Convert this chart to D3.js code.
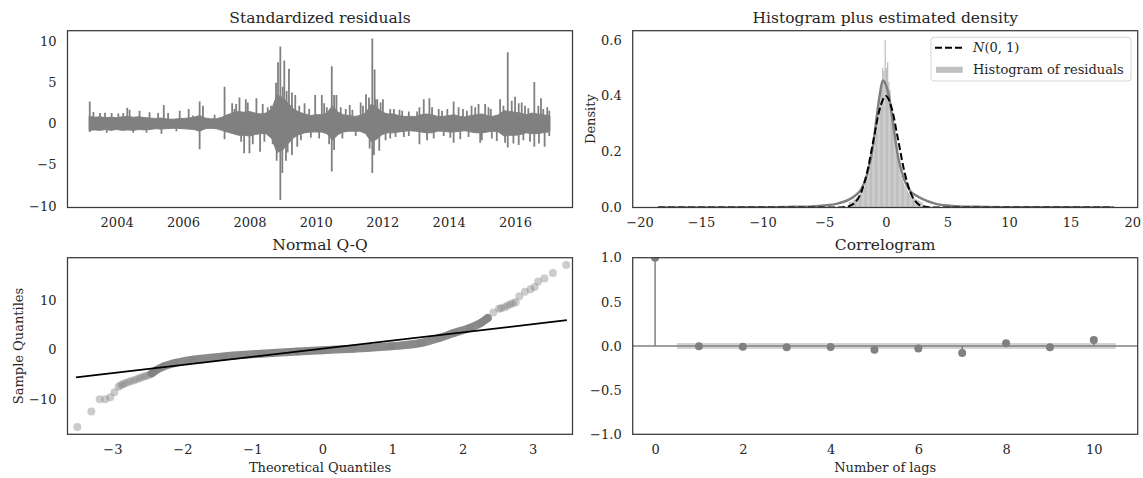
<!DOCTYPE html>
<html>
<head>
<meta charset="utf-8">
<script src="https://cdn.jsdelivr.net/npm/d3@7"></script>
<style>
    body { margin: 0; background: #fff; }
    svg text { font-family: "DejaVu Serif", serif; fill: #262626; }
</style>
</head>
<body>
<div id="main_area"></div>
<script>
// ---- standardized residuals: dense core band (every two months) and spikes ----
var bandYears = [2003.17, 2003.33, 2003.5, 2003.67, 2003.83, 2004.0, 2004.17, 2004.33, 2004.5, 2004.67, 2004.83,
    2005.0, 2005.17, 2005.33, 2005.5, 2005.67, 2005.83, 2006.0, 2006.17, 2006.33, 2006.5, 2006.67, 2006.83,
    2007.0, 2007.17, 2007.33, 2007.5, 2007.67, 2007.83, 2008.0, 2008.17, 2008.33, 2008.5, 2008.67, 2008.83,
    2009.0, 2009.17, 2009.33, 2009.5, 2009.67, 2009.83, 2010.0, 2010.17, 2010.33, 2010.5, 2010.67, 2010.83,
    2011.0, 2011.17, 2011.33, 2011.5, 2011.67, 2011.83, 2012.0, 2012.17, 2012.33, 2012.5, 2012.67, 2012.83,
    2013.0, 2013.17, 2013.33, 2013.5, 2013.67, 2013.83, 2014.0, 2014.17, 2014.33, 2014.5, 2014.67, 2014.83,
    2015.0, 2015.17, 2015.33, 2015.5, 2015.67, 2015.83, 2016.0, 2016.17, 2016.33, 2016.5, 2016.67, 2016.83,
    2017.0, 2017.05];
var bandHi = [0.9, 0.8, 0.85, 0.75, 0.8, 0.75, 0.85, 0.9, 0.8, 0.85, 0.75,
    0.7, 0.65, 0.7, 0.6, 0.55, 0.6, 0.65, 0.7, 0.8, 1.0, 0.7, 0.6,
    0.6, 0.8, 1.1, 1.3, 1.5, 1.4, 1.5, 1.3, 1.2, 1.3, 1.8, 3.5,
    3.2, 2.5, 1.8, 1.4, 1.2, 1.0, 1.1, 1.1, 1.3, 2.2, 1.4, 1.1,
    1.0, 0.9, 1.0, 1.3, 2.4, 2.0, 1.4, 1.2, 1.2, 1.0, 0.9, 0.9,
    0.9, 1.1, 1.2, 1.1, 0.9, 0.9, 1.0, 1.1, 0.9, 0.85, 1.0, 1.1,
    1.2, 1.0, 0.9, 1.1, 1.6, 1.5, 1.4, 1.3, 1.1, 1.3, 1.2, 1.1,
    1.0, 0.9];
var bandLo = [-0.8, -0.75, -0.8, -0.7, -0.8, -0.7, -0.8, -0.75, -0.8, -0.7, -0.75,
    -0.7, -0.6, -0.65, -0.6, -0.55, -0.55, -0.6, -0.65, -0.7, -0.9, -0.6, -0.55,
    -0.6, -0.8, -1.0, -1.2, -1.4, -1.4, -1.5, -1.3, -1.2, -1.2, -1.8, -3.5,
    -3.2, -2.4, -1.7, -1.3, -1.1, -1.0, -1.0, -1.0, -1.2, -2.0, -1.3, -1.0,
    -0.9, -0.9, -0.9, -1.2, -2.2, -1.9, -1.3, -1.1, -1.1, -1.0, -0.9, -0.85,
    -0.9, -1.0, -1.1, -1.1, -0.9, -0.9, -1.0, -1.0, -0.9, -0.85, -1.0, -1.1,
    -1.1, -1.0, -0.9, -1.0, -1.5, -1.4, -1.4, -1.3, -1.1, -1.2, -1.2, -1.1,
    -1.0, -0.9];
var spikeYears = [2003.19, 2003.19, 2003.3, 2003.5, 2003.65, 2003.7, 2003.85, 2004.05, 2004.2, 2004.32, 2004.39,
    2004.5, 2004.69, 2004.9, 2004.99, 2005.25, 2005.35, 2005.42, 2005.55, 2005.8, 2005.9, 2006.17, 2006.3,
    2006.5, 2006.5, 2006.6, 2006.95, 2007.25, 2007.25, 2007.48, 2007.55, 2007.6, 2007.7, 2007.75, 2007.84,
    2007.89, 2007.95, 2008.0, 2008.1, 2008.21, 2008.32, 2008.4, 2008.45, 2008.55, 2008.65, 2008.7, 2008.8,
    2008.82, 2008.86, 2008.93, 2008.93, 2008.99, 2009.0, 2009.05, 2009.1, 2009.12, 2009.15, 2009.19, 2009.28,
    2009.28, 2009.38, 2009.44, 2009.5, 2009.55, 2009.66, 2009.8, 2009.85, 2009.98, 2010.1, 2010.18, 2010.25,
    2010.33, 2010.4, 2010.48, 2010.48, 2010.55, 2010.55, 2010.62, 2010.75, 2010.8, 2010.9, 2011.02, 2011.1,
    2011.2, 2011.35, 2011.42, 2011.51, 2011.6, 2011.62, 2011.7, 2011.7, 2011.75, 2011.77, 2011.8, 2011.85,
    2011.91, 2011.95, 2012.02, 2012.1, 2012.24, 2012.24, 2012.35, 2012.4, 2012.52, 2012.6, 2012.65, 2012.8,
    2012.8, 2013.05, 2013.12, 2013.12, 2013.25, 2013.35, 2013.42, 2013.5, 2013.55, 2013.7, 2013.8, 2013.85,
    2013.96, 2014.05, 2014.15, 2014.15, 2014.3, 2014.35, 2014.43, 2014.55, 2014.6, 2014.69, 2014.8, 2014.9,
    2014.95, 2015.0, 2015.1, 2015.2, 2015.27, 2015.3, 2015.45, 2015.55, 2015.65, 2015.7, 2015.78, 2015.78,
    2015.9, 2015.95, 2016.0, 2016.11, 2016.11, 2016.2, 2016.25, 2016.3, 2016.4, 2016.45, 2016.58, 2016.58,
    2016.7, 2016.72, 2016.78, 2016.85, 2016.89, 2016.97, 2017.03, 2017.03];
var spikeVals = [2.7, -1.0, 1.45, 1.3, 1.35, -1.1, 1.3, 1.25, 1.3, 1.95, 1.7,
    -1.1, 1.6, -1.1, 1.4, 1.3, -1.2, 2.3, 1.3, -0.9, 1.6, 1.8, 1.0,
    2.7, -3.1, 2.2, 1.1, 4.5, -1.9, 2.5, 1.8, 2.4, 3.2, -2.2, -3.6,
    3.0, 2.6, -3.6, -2.5, 3.1, -3.4, 2.4, -2.2, 2.0, 2.2, -2.5, 5.0,
    -4.5, 7.5, 9.4, -9.3, -6.0, 4.5, 7.7, -4.5, 4.0, -3.5, 6.7, 3.8,
    -3.8, 3.5, -2.8, 2.2, -2.0, 2.5, 1.8, -1.7, 3.5, -1.8, 3.5, 2.5,
    2.0, -2.5, 7.0, -5.8, 3.5, -3.2, 3.5, 2.0, -1.8, 1.8, 2.3, 1.7,
    -1.5, 2.6, 2.2, 3.6, 3.2, -3.0, 10.4, -6.0, -3.8, 6.6, 3.0, 3.0,
    -3.3, 2.6, 3.0, -2.0, 1.8, -1.8, 1.8, -1.6, 1.7, 1.6, -1.6, 1.5,
    -1.5, 1.5, 2.0, -2.5, 3.0, -2.0, 3.1, 2.0, -1.8, 1.8, 1.6, -1.5,
    1.8, -1.7, 2.7, -2.3, 2.0, -1.9, 1.8, 1.6, -1.6, 2.2, 2.0, 2.4,
    -2.3, -2.0, 2.4, 2.0, 1.8, -1.8, -2.1, 3.0, 2.2, -2.3, 8.7, -2.9,
    2.8, -2.4, 3.3, 2.5, -2.6, 2.6, -2.0, 2.2, 1.9, -2.2, 5.1, -2.8,
    2.2, -2.4, 3.1, 1.8, -2.8, 2.0, -1.5, 1.6];
var tsYTicks = [-10, -5, 0, 5, 10];
var tsXTicks = [2004, 2006, 2008, 2010, 2012, 2014, 2016];

// ---- histogram + densities ----
var histEdges = [-3.0, -2.9, -2.8, -2.7, -2.6, -2.5, -2.4, -2.3, -2.2, -2.1, -2.0, -1.9, -1.8, -1.7, -1.6,
    -1.5, -1.4, -1.3, -1.2, -1.1, -1.0, -0.9, -0.8, -0.7, -0.6, -0.5, -0.4, -0.3, -0.2, -0.1,
    0.0, 0.1, 0.2, 0.3, 0.4, 0.5, 0.6, 0.7, 0.8, 0.9, 1.0, 1.1, 1.2, 1.3, 1.4,
    1.5, 1.6, 1.7, 1.8, 1.9, 2.0, 2.1, 2.2, 2.3, 2.4, 2.5, 2.6, 2.7, 2.8, 2.9, 3.0];
var histDensity = [0.02, 0.02, 0.022, 0.025, 0.028, 0.03, 0.035, 0.038, 0.045, 0.05,
    0.057, 0.065, 0.072, 0.085, 0.10, 0.11, 0.125, 0.145, 0.165, 0.19,
    0.21, 0.24, 0.27, 0.30, 0.34, 0.38, 0.42, 0.50, 0.49, 0.60,
    0.50, 0.52, 0.45, 0.42, 0.36, 0.32, 0.28, 0.25, 0.21, 0.18,
    0.155, 0.135, 0.115, 0.10, 0.088, 0.077, 0.068, 0.06, 0.052, 0.046,
    0.042, 0.038, 0.035, 0.032, 0.03, 0.027, 0.025, 0.022, 0.02, 0.018];
var kdeX = [-18.5, -10, -8, -6, -5, -4, -3, -2.5, -2, -1.5, -1, -0.75, -0.5, -0.25, 0, 0.25, 0.5, 0.75, 1, 1.5, 2, 2.5, 3, 4, 5, 6, 8, 10, 18.5];
var kdeY = [0, 0.001, 0.002, 0.004, 0.007, 0.013, 0.028, 0.042, 0.065, 0.12, 0.23, 0.32, 0.40, 0.455, 0.44, 0.40, 0.33, 0.25, 0.18, 0.10, 0.058, 0.042, 0.03, 0.014, 0.007, 0.004, 0.002, 0.001, 0];
var normX = [-18.5, -5, -4, -3.5, -3, -2.5, -2, -1.5, -1, -0.5, 0, 0.5, 1, 1.5, 2, 2.5, 3, 3.5, 4, 5, 18.5];
var normY = [0, 0, 0.0001, 0.0009, 0.0044, 0.0175, 0.054, 0.13, 0.242, 0.352, 0.399, 0.352, 0.242, 0.13, 0.054, 0.0175, 0.0044, 0.0009, 0.0001, 0, 0];
var histXTicks = [-20, -15, -10, -5, 0, 5, 10, 15, 20];
var histYTicks = [0.0, 0.2, 0.4, 0.6];

// ---- normal Q-Q ----
var qqTheo = [-3.50, -3.30, -3.18, -3.10, -3.03, -2.97, -2.91, -2.88, -2.85, -2.82, -2.78, -2.74, -2.70, -2.66,
    -2.62, -2.59, -2.55, -2.52, -2.48, -2.44, -2.41, -2.37, -2.27, -2.11, -1.84, -1.41, -0.88, -0.35, 0.0, 0.45,
    0.98, 1.40, 1.67, 1.88, 2.10, 2.26, 2.36, 2.44, 2.52, 2.55, 2.60, 2.64, 2.68, 2.72, 2.76, 2.81, 2.89, 2.97,
    3.03, 3.08, 3.17, 3.29, 3.48];
var qqSample = [-15.6, -12.5, -10.0, -10.0, -9.6, -8.6, -7.5, -7.2, -7.0, -6.8, -6.6, -6.4, -6.2, -6.0,
    -5.8, -5.6, -5.4, -5.3, -5.1, -4.8, -4.5, -4.1, -3.4, -2.7, -2.0, -1.35, -0.8, -0.35, -0.1, 0.2,
    0.7, 1.35, 2.4, 3.4, 4.4, 5.4, 6.4, 7.5, 8.3, 8.4, 8.6, 8.9, 9.2, 9.4, 9.6, 10.8, 11.7, 12.2,
    12.7, 13.8, 14.4, 15.5, 17.1];
var qqLineX = [-3.52, 3.49];
var qqLineY = [-5.6, 5.97];
var qqXTicks = [-3, -2, -1, 0, 1, 2, 3];
var qqYTicks = [-10, 0, 10];

// ---- correlogram ----
var acfLags = [0, 1, 2, 3, 4, 5, 6, 7, 8, 9, 10];
var acfVals = [1.0, -0.004, -0.008, -0.015, -0.011, -0.042, -0.027, -0.08, 0.03, -0.015, 0.068];
var confX = [0.5, 10.5];
var confHalf = 0.034;
var acfXTicks = [0, 2, 4, 6, 8, 10];
var acfYTicks = [-1.0, -0.5, 0.0, 0.5, 1.0];

var W = 1143, H = 478;
var svg = d3.select("#main_area").append("svg")
    .attr("width", W).attr("height", H);

var gray = "#808080";
var tickFont = 13;

// one panel: frame, title, axes
function makePanel(box, title, xScale, yScale, xTicks, yTicks, xFmt, yFmt) {
    var g = svg.append("g").attr("transform", "translate(" + box.x + "," + box.y + ")");
    g.append("text")
        .attr("x", box.w / 2)
        .attr("y", -8)
        .style("text-anchor", "middle")
        .style("font-size", "15.5px")
        .text(title);
    var clip = "clip" + Math.round(box.x) + "_" + Math.round(box.y);
    g.append("clipPath").attr("id", clip)
        .append("rect").attr("width", box.w).attr("height", box.h);
    var plot = g.append("g").attr("clip-path", "url(#" + clip + ")");

    var xa = g.append("g")
        .attr("transform", "translate(0," + box.h + ")")
        .call(d3.axisBottom(xScale).tickValues(xTicks).tickSize(0).tickPadding(10.5).tickFormat(xFmt));
    var ya = g.append("g")
        .call(d3.axisLeft(yScale).tickValues(yTicks).tickSize(0).tickPadding(11).tickFormat(yFmt));
    [xa, ya].forEach(function (a) {
        a.select(".domain").remove();
        a.selectAll("text").style("font-size", tickFont + "px").style("font-family", "DejaVu Serif, serif").attr("fill", "#262626");
    });
    return {g: g, plot: plot, frame: function () {
        g.append("rect")
            .attr("width", box.w).attr("height", box.h)
            .attr("fill", "none").attr("stroke", "#3a3a3a").attr("stroke-width", 1.25);
    }};
}

function fmtInt(d) { return d3.format("d")(d); }

// ---------- panel 1: standardized residuals ----------
var b1 = {x: 67.5, y: 30.7, w: 505, h: 176.8};
var x1 = d3.scaleLinear().domain([2002.52, 2017.73]).range([0, b1.w]);
var y1 = d3.scaleLinear().domain([-10.2, 11.34]).range([b1.h, 0]);
var p1 = makePanel(b1, "Standardized residuals", x1, y1, tsXTicks, tsYTicks, fmtInt, fmtInt);
p1.plot.append("path")
    .datum(bandYears.map(function (d, i) { return [d, bandHi[i], bandLo[i]]; }))
    .attr("fill", gray)
    .attr("stroke", gray)
    .attr("stroke-width", 1)
    .attr("d", d3.area()
        .x(function (d) { return x1(d[0]); })
        .y0(function (d) { return y1(d[2]); })
        .y1(function (d) { return y1(d[1]); }));
p1.plot.selectAll("line.spike")
    .data(spikeYears)
    .enter()
    .append("line")
    .attr("class", "spike")
    .attr("x1", function (d) { return x1(d); })
    .attr("x2", function (d) { return x1(d); })
    .attr("y1", y1(0))
    .attr("y2", function (d, i) { return y1(spikeVals[i]); })
    .attr("stroke", gray)
    .attr("stroke-width", 1.8);
p1.frame();

// ---------- panel 2: histogram ----------
var b2 = {x: 632.7, y: 30.7, w: 505, h: 176.8};
var x2 = d3.scaleLinear().domain([-20.55, 20.45]).range([0, b2.w]);
var y2 = d3.scaleLinear().domain([0, 0.633]).range([b2.h, 0]);
var p2 = makePanel(b2, "Histogram plus estimated density", x2, y2, histXTicks, histYTicks, fmtInt, d3.format(".1f"));
p2.plot.selectAll("rect.bar")
    .data(histDensity)
    .enter()
    .append("rect")
    .attr("class", "bar")
    .attr("x", function (d, i) { return x2(histEdges[i]); })
    .attr("width", function (d, i) { return x2(histEdges[i + 1]) - x2(histEdges[i]); })
    .attr("y", function (d) { return y2(d); })
    .attr("height", function (d) { return b2.h - y2(d); })
    .attr("fill", "#bdbdbd");
p2.plot.append("path")
    .datum(kdeX.map(function (d, i) { return [d, kdeY[i]]; }))
    .attr("fill", "none")
    .attr("stroke", gray)
    .attr("stroke-width", 2.5)
    .attr("d", d3.line().curve(d3.curveMonotoneX)
        .x(function (d) { return x2(d[0]); })
        .y(function (d) { return y2(d[1]); }));
p2.plot.append("path")
    .datum(normX.map(function (d, i) { return [d, normY[i]]; }))
    .attr("fill", "none")
    .attr("stroke", "#000")
    .attr("stroke-width", 2)
    .attr("stroke-dasharray", "7,3")
    .attr("d", d3.line().curve(d3.curveMonotoneX)
        .x(function (d) { return x2(d[0]); })
        .y(function (d) { return y2(d[1]); }));
p2.frame();
p2.g.append("text")
    .attr("transform", "translate(" + (590 - b2.x) + "," + (b2.h / 2) + ") rotate(-90)")
    .attr("dy", "0.35em")
    .style("text-anchor", "middle")
    .style("font-size", tickFont + "px")
    .text("Density");
// legend
var lg = p2.g.append("g").attr("transform", "translate(" + (931 - b2.x) + "," + (37.3 - b2.y) + ")");
lg.append("rect")
    .attr("width", 200).attr("height", 43.7).attr("rx", 3)
    .attr("fill", "#fff").attr("stroke", "#d6d6d6").attr("stroke-width", 1);
lg.append("line")
    .attr("x1", 4).attr("x2", 31).attr("y1", 10.5).attr("y2", 10.5)
    .attr("stroke", "#000").attr("stroke-width", 2).attr("stroke-dasharray", "7,3");
var lt = lg.append("text").attr("x", 42).attr("y", 10.5).attr("dy", "0.35em").style("font-size", tickFont + "px");
lt.append("tspan").style("font-style", "italic").text("N");
lt.append("tspan").text("(0, 1)");
lg.append("rect")
    .attr("x", 5).attr("y", 29.5).attr("width", 26.7).attr("height", 6)
    .attr("fill", "#bfbfbf");
lg.append("text").attr("x", 42).attr("y", 32.5).attr("dy", "0.35em").style("font-size", tickFont + "px")
    .text("Histogram of residuals");

// ---------- panel 3: normal Q-Q ----------
var b3 = {x: 67.5, y: 257.7, w: 505, h: 176.6};
var x3 = d3.scaleLinear().domain([-3.64, 3.57]).range([0, b3.w]);
var y3 = d3.scaleLinear().domain([-17.1, 18.6]).range([b3.h, 0]);
var p3 = makePanel(b3, "Normal Q-Q", x3, y3, qqXTicks, qqYTicks, fmtInt, fmtInt);
var qqPts = qqTheo.map(function (d, i) { return [d, qqSample[i]]; });
// dense middle part of the cloud drawn as one thick stroke
p3.plot.append("path")
    .datum(qqPts.filter(function (d) { return d[0] > -2.45 && d[0] < 2.4; }))
    .attr("fill", "none")
    .attr("stroke", "#8a8a8a")
    .attr("stroke-width", 8)
    .attr("stroke-linecap", "round")
    .attr("stroke-linejoin", "round")
    .attr("d", d3.line().curve(d3.curveMonotoneX)
        .x(function (d) { return x3(d[0]); })
        .y(function (d) { return y3(d[1]); }));
p3.plot.selectAll("circle")
    .data(qqPts)
    .enter()
    .append("circle")
    .attr("cx", function (d) { return x3(d[0]); })
    .attr("cy", function (d) { return y3(d[1]); })
    .attr("r", 4)
    .attr("fill", gray)
    .attr("fill-opacity", 0.4);
p3.plot.append("line")
    .attr("x1", x3(qqLineX[0])).attr("x2", x3(qqLineX[1]))
    .attr("y1", y3(qqLineY[0])).attr("y2", y3(qqLineY[1]))
    .attr("stroke", "#000").attr("stroke-width", 1.8);
p3.frame();
p3.g.append("text")
    .attr("transform", "translate(" + (18 - b3.x) + "," + (b3.h / 2) + ") rotate(-90)")
    .attr("dy", "0.35em")
    .style("text-anchor", "middle")
    .style("font-size", tickFont + "px")
    .text("Sample Quantiles");
p3.g.append("text")
    .attr("x", b3.w / 2)
    .attr("y", 467 - b3.y)
    .attr("dy", "0.35em")
    .style("text-anchor", "middle")
    .style("font-size", tickFont + "px")
    .text("Theoretical Quantiles");

// ---------- panel 4: correlogram ----------
var b4 = {x: 632.7, y: 257.7, w: 505, h: 176.6};
var x4 = d3.scaleLinear().domain([-0.51, 11.0]).range([0, b4.w]);
var y4 = d3.scaleLinear().domain([-1, 1]).range([b4.h, 0]);
var p4 = makePanel(b4, "Correlogram", x4, y4, acfXTicks, acfYTicks, fmtInt, d3.format(".1f"));
p4.plot.append("rect")
    .attr("x", x4(confX[0]))
    .attr("width", x4(confX[1]) - x4(confX[0]))
    .attr("y", y4(confHalf))
    .attr("height", y4(-confHalf) - y4(confHalf))
    .attr("fill", "#d3d3d3");
p4.plot.append("line")
    .attr("x1", 0).attr("x2", b4.w)
    .attr("y1", y4(0)).attr("y2", y4(0))
    .attr("stroke", gray).attr("stroke-width", 1.5);
p4.plot.selectAll("line.stem")
    .data(acfVals)
    .enter()
    .append("line")
    .attr("class", "stem")
    .attr("x1", function (d, i) { return x4(acfLags[i]); })
    .attr("x2", function (d, i) { return x4(acfLags[i]); })
    .attr("y1", y4(0))
    .attr("y2", function (d) { return y4(d); })
    .attr("stroke", gray).attr("stroke-width", 1.5);
p4.plot.selectAll("circle")
    .data(acfVals)
    .enter()
    .append("circle")
    .attr("cx", function (d, i) { return x4(acfLags[i]); })
    .attr("cy", function (d) { return y4(d); })
    .attr("r", 4)
    .attr("fill", gray);
p4.frame();
p4.g.append("text")
    .attr("x", b4.w / 2)
    .attr("y", 467 - b4.y)
    .attr("dy", "0.35em")
    .style("text-anchor", "middle")
    .style("font-size", tickFont + "px")
    .text("Number of lags");
</script>
</body>
</html>
